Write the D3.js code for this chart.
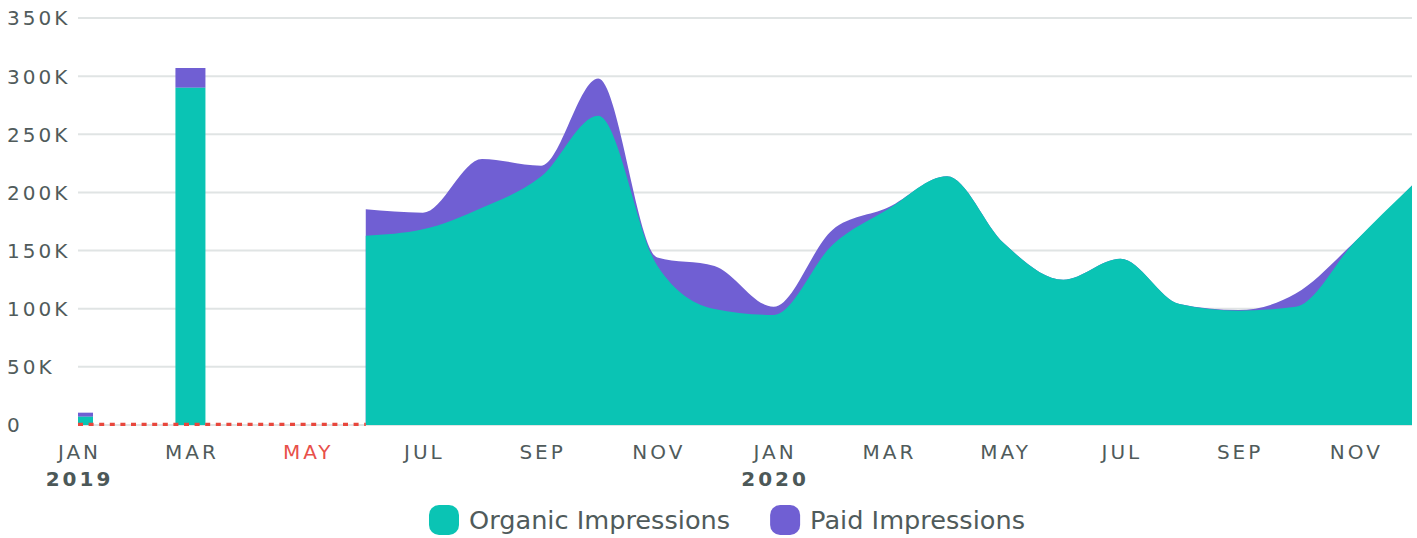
<!DOCTYPE html>
<html>
<head>
<meta charset="utf-8">
<script src="https://cdn.jsdelivr.net/npm/d3@7"></script>
<style>
  html, body { margin: 0; padding: 0; background: #ffffff; }
  svg { display: block; font-family: "DejaVu Sans", sans-serif; }
</style>
</head>
<body>
<svg id="chart" width="1417" height="538"></svg>
<script>
// ---- data ----
const months = ["2019-01","2019-02","2019-03","2019-04","2019-05","2019-06","2019-07","2019-08","2019-09","2019-10","2019-11","2019-12",
                "2020-01","2020-02","2020-03","2020-04","2020-05","2020-06","2020-07","2020-08","2020-09","2020-10","2020-11","2020-12"];
const organic = [7100, null, 290000, null, null, 162800, 168300, 186900, 213600, 266000, 137000, 99800,
                 94600, 155000, 185500, 214000, 156000, 125000, 143000, 104000, 98300, 101700, 157600, 206000];
const paid    = [3500, null, 17000, null, null, 22700, 14300, 41900, 9400, 32000, 7000, 37000,
                 7000, 13000, 1500, 0, 0, 0, 0, 0, 500, 11300, 0, 0];
const seriesNames = ["Organic Impressions", "Paid Impressions"];
const seriesColors = ["#0ac4b4", "#705fd3"];
const yTicks = [0, 50000, 100000, 150000, 200000, 250000, 300000, 350000];
const yTickLabels = ["0", "50K", "100K", "150K", "200K", "250K", "300K", "350K"];
const xTickMonths = ["2019-01","2019-03","2019-05","2019-07","2019-09","2019-11","2020-01","2020-03","2020-05","2020-07","2020-09","2020-11"];
const xTickLabels = ["JAN","MAR","MAY","JUL","SEP","NOV","JAN","MAR","MAY","JUL","SEP","NOV"];
const yearLabels = [["2019-01","2019"],["2020-01","2020"]];
const missingRange = ["2019-01","2019-06"];
const highlightMonth = "2019-05";

// ---- layout ----
const W = 1417, H = 538;
const plot = { left: 78, right: 1412, top: 18, bottom: 425 };
const textColor = "#505b5b";
const parse = d3.timeParse("%Y-%m");

const svg = d3.select("#chart");
const x = d3.scaleTime().domain([parse(months[0]), parse(months[months.length-1])]).range([plot.left, plot.right]);
const y = d3.scaleLinear().domain([0, 350000]).range([plot.bottom, plot.top]);

const data = months.map((m, i) => ({
  date: parse(m), organic: organic[i], paid: paid[i],
  total: organic[i] == null ? null : organic[i] + (paid[i] || 0)
}));

svg.append("defs").append("clipPath").attr("id", "plotclip")
  .append("rect").attr("x", plot.left).attr("y", 0).attr("width", plot.right - plot.left).attr("height", plot.bottom + 2);

// grid
svg.append("g").selectAll("line").data(yTicks).join("line")
  .attr("x1", plot.left).attr("x2", plot.right)
  .attr("y1", d => y(d)).attr("y2", d => y(d))
  .attr("stroke", "#e0e4e4").attr("stroke-width", 2);

// y labels
svg.append("g").selectAll("text").data(yTicks).join("text")
  .attr("x", 7).attr("y", d => y(d) + 7.4)
  .attr("font-size", 20).attr("letter-spacing", 3)
  .attr("fill", textColor)
  .text((d, i) => yTickLabels[i]);

// segments
const segments = [];
let cur = [];
data.forEach(d => {
  if (d.organic == null) { if (cur.length) segments.push(cur); cur = []; }
  else cur.push(d);
});
if (cur.length) segments.push(cur);

const g = svg.append("g").attr("clip-path", "url(#plotclip)");
const barW = 30;

segments.forEach(seg => {
  if (seg.length === 1) {
    const d = seg[0];
    g.append("rect").attr("x", x(d.date) - barW/2).attr("width", barW)
      .attr("y", y(d.total)).attr("height", y(d.organic) - y(d.total))
      .attr("fill", seriesColors[1]);
    g.append("rect").attr("x", x(d.date) - barW/2).attr("width", barW)
      .attr("y", y(d.organic)).attr("height", y(0) - y(d.organic))
      .attr("fill", seriesColors[0]);
  } else {
    const totalArea = d3.area().curve(d3.curveMonotoneX)
      .x(d => x(d.date)).y0(y(0)).y1(d => y(d.total));
    const orgArea = d3.area().curve(d3.curveMonotoneX)
      .x(d => x(d.date)).y0(y(0)).y1(d => y(d.organic));
    g.append("path").datum(seg).attr("d", totalArea).attr("fill", seriesColors[1]);
    g.append("path").datum(seg).attr("d", orgArea).attr("fill", seriesColors[0]);
  }
});

// missing data dashed line
svg.append("line")
  .attr("x1", x(parse(missingRange[0]))).attr("x2", x(parse(missingRange[1])))
  .attr("y1", y(0) - 0.7).attr("y2", y(0) - 0.7)
  .attr("stroke", "#e8473d").attr("stroke-width", 3.2).attr("stroke-dasharray", "5,5.6");

// x labels
svg.append("g").selectAll("text").data(xTickMonths).join("text")
  .attr("x", d => x(parse(d)) + 1.5).attr("y", 459)
  .attr("text-anchor", "middle").attr("font-size", 20).attr("letter-spacing", 3)
  .attr("fill", d => d === highlightMonth ? "#e8504a" : textColor)
  .text((d, i) => xTickLabels[i]);

svg.append("g").selectAll("text").data(yearLabels).join("text")
  .attr("x", d => x(parse(d[0])) + 1.5).attr("y", 485.5)
  .attr("text-anchor", "middle").attr("font-size", 20).attr("letter-spacing", 3)
  .attr("font-weight", "bold").attr("fill", "#4c5858")
  .text(d => d[1]);

// legend
const legend = svg.append("g");
const items = legend.selectAll("g").data(seriesNames).join("g");
items.append("rect").attr("width", 30).attr("height", 30).attr("rx", 10).attr("ry", 10)
  .attr("fill", (d, i) => seriesColors[i]);
items.append("text").attr("x", 40).attr("y", 24).attr("font-size", 25.6)
  .attr("fill", textColor).text(d => d);
const widths = [];
items.each(function() {
  widths.push(40 + this.querySelector("text").getComputedTextLength());
});
const gap = 40;
const totalW = widths.reduce((a, b) => a + b, 0) + gap * (widths.length - 1);
let startX = 727 - totalW / 2;
items.attr("transform", (d, i) => {
  const tx = startX + widths.slice(0, i).reduce((a, b) => a + b, 0) + gap * i;
  return `translate(${tx},505)`;
});
</script>
</body>
</html>
